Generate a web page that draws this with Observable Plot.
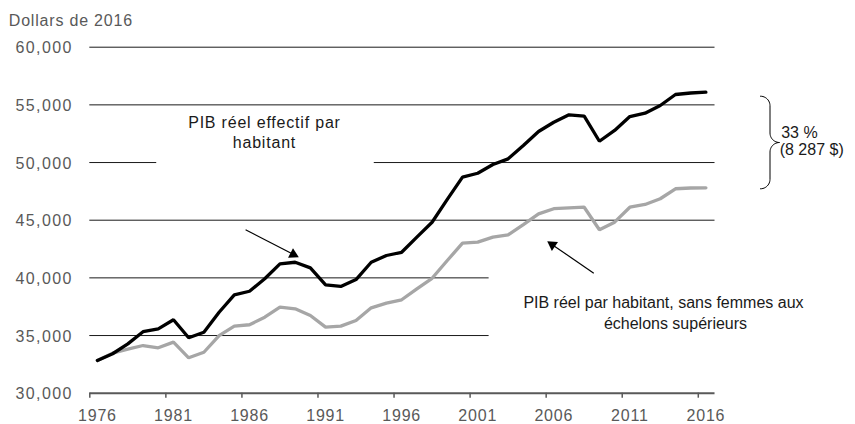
<!DOCTYPE html>
<html>
<head>
<meta charset="utf-8">
<script src="https://cdn.jsdelivr.net/npm/d3@7"></script>
<script src="https://cdn.jsdelivr.net/npm/@observablehq/plot@0.6"></script>
<style>
  html, body { margin: 0; padding: 0; background: #fff; }
  #chart { width: 855px; height: 424px; }
  #chart text.spaced { letter-spacing: 0.8px; }
</style>
</head>
<body>
<div id="chart"></div>
<script>
// ---- Data ----
const years = [1976,1977,1978,1979,1980,1981,1982,1983,1984,1985,1986,1987,1988,1989,1990,
  1991,1992,1993,1994,1995,1996,1997,1998,1999,2000,2001,2002,2003,2004,2005,2006,2007,2008,
  2009,2010,2011,2012,2013,2014,2015,2016];
const actualGdp = [32840,33420,34275,35330,35580,36365,34810,35290,37020,38530,38840,39920,41215,41355,40870,
  39395,39255,39855,41355,41940,42220,43530,44825,46800,48730,49070,49825,50320,51475,52690,53495,54140,54020,
  51845,52780,53990,54280,54945,55900,56030,56097];
const gdpWithoutWomen = [32840,33470,33820,34135,33935,34425,33070,33550,35000,35815,35935,36590,37455,37320,36740,
  35725,35815,36305,37400,37805,38100,39050,39965,41505,43005,43095,43530,43730,44625,45550,45995,46075,46125,
  44175,44830,46125,46365,46860,47725,47790,47810];
const yTicks = [30000,35000,40000,45000,50000,55000,60000];
const xTickLabels = [1976,1981,1986,1991,1996,2001,2006,2011,2016];
const xTickMarks = [1975.5,1980.5,1985.5,1990.5,1995.5,2000.5,2005.5,2010.5,2015.5];
const yLabel = "Dollars de 2016";
const gapLabel = ["33 %", "(8 287 $)"];

// ---- Layout ----
const W = 855, H = 424;
const mL = 89.3, mR = 142, mT = 46.7, mB = 31.3;
const xDomain = [1975.5, 2016.5], yDomain = [30000, 60000];
const xs = d3.scaleLinear(xDomain, [mL, W - mR]);
const ys = d3.scaleLinear(yDomain, [H - mB, mT]);

const rows = years.map((year, i) => ({year, actual: actualGdp[i], without: gdpWithoutWomen[i]}));

// gridline segments (some are interrupted by annotation text)
const grid = [
  {v: 60000, x1: 1975.5, x2: 2016.6},
  {v: 55000, x1: 1975.5, x2: 2016.6},
  {v: 50000, x1: 1975.5, x2: 1979.9},
  {v: 50000, x1: 1994.2, x2: 2016.6},
  {v: 45000, x1: 1975.5, x2: 2016.6},
  {v: 40000, x1: 1975.5, x2: 2001.75},
  {v: 35000, x1: 1975.5, x2: 2001.75}
];

const notesMid = [
  {t: "PIB réel effectif par", x: 1986.98, y: 53470},
  {t: "habitant", x: 1986.98, y: 51736}
];
const notesMid2 = [
  {t: "PIB réel par habitant, sans femmes aux", x: 2013.21, y: 37864},
  {t: "échelons supérieurs", x: 2014.0, y: 36043}
];
const notesStart = [
  {t: gapLabel[0], x: 2020.95, y: 52560},
  {t: gapLabel[1], x: 2020.85, y: 51130}
];

const arrows = [
  {x1: 1985.74, y1: 44167, x2: 1989.24, y2: 41791},
  {x1: 2008.63, y1: 40404, x2: 2005.57, y2: 43178}
];
// arrowheads: filled triangles whose tip sits at the arrow end
const headR = 4;
const tipDist = 2 * Math.sqrt(headR * headR * Math.PI / (3 * Math.sqrt(3)));
const heads = arrows.map(a => {
  const px1 = xs(a.x1), py1 = ys(a.y1), px2 = xs(a.x2), py2 = ys(a.y2);
  const ang = Math.atan2(py2 - py1, px2 - px1);
  const cx = px2 - tipDist * Math.cos(ang), cy = py2 - tipDist * Math.sin(ang);
  return {x: xs.invert(cx), y: ys.invert(cy), rot: ang * 180 / Math.PI + 90};
});
const shafts = arrows.map(a => {
  const px1 = xs(a.x1), py1 = ys(a.y1), px2 = xs(a.x2), py2 = ys(a.y2);
  const ang = Math.atan2(py2 - py1, px2 - px1);
  const ex = px2 - tipDist * 1.2 * Math.cos(ang), ey = py2 - tipDist * 1.2 * Math.sin(ang);
  return {x1: a.x1, y1: a.y1, x2: xs.invert(ex), y2: ys.invert(ey)};
});

// curly brace spanning the 2016 gap
function bracePoints() {
  const top = ys(actualGdp[actualGdp.length - 1]) + 4;
  const bot = ys(gdpWithoutWomen[gdpWithoutWomen.length - 1]) + 1;
  const x0 = 760, xc = 779, r = 9.5;
  const mid = (top + bot) / 2;
  const pts = [];
  const arc = (cx, cy, a0, a1) => {
    for (let k = 0; k <= 12; k++) {
      const a = (a0 + (a1 - a0) * k / 12) * Math.PI / 180;
      pts.push([cx + r * Math.cos(a), cy + r * Math.sin(a)]);
    }
  };
  arc(x0, top + r, -90, 0);
  arc(xc, mid - r, 180, 90);
  arc(xc, mid + r, 270, 180);
  arc(x0, bot - r, 0, 90);
  return pts.map(([px, py]) => ({x: xs.invert(px), y: ys.invert(py)}));
}
const brace = bracePoints();

const font = "'Liberation Sans', Arial, Helvetica, sans-serif";

const chart = Plot.plot({
  width: W, height: H,
  marginLeft: mL, marginRight: mR, marginTop: mT, marginBottom: mB,
  x: {domain: xDomain},
  y: {domain: yDomain},
  style: {fontFamily: font, background: "#fff", overflow: "visible"},
  marks: [
    Plot.ruleY(grid, {y: "v", x1: "x1", x2: "x2", stroke: "#1a1a1a", strokeWidth: 1}),
    Plot.ruleY([30000], {x1: 1975.5, x2: 2016.6, stroke: "#595959", strokeWidth: 2}),
    Plot.axisX(xTickMarks, {tickSize: 5, tickFormat: () => "", stroke: "#595959", strokeWidth: 1.5, label: null}),
    Plot.axisX(xTickLabels, {tickSize: 0, tickPadding: 16, tickFormat: d => String(d), fontSize: 16, fill: "#595959", label: null, className: "xlab"}),
    Plot.axisY(yTicks, {tickSize: 0, tickPadding: 17, dy: 1, tickFormat: d3.format(","), fontSize: 16, fill: "#595959", label: null, className: "ylab"}),
    Plot.text([yLabel], {frameAnchor: "top-left", dx: -81, dy: -33, textAnchor: "start", fontSize: 16, fill: "#595959", className: "ttl"}),
    Plot.line(rows, {x: "year", y: "without", stroke: "#a6a6a6", strokeWidth: 3.3, strokeLinejoin: "miter"}),
    Plot.line(rows, {x: "year", y: "actual", stroke: "#000", strokeWidth: 3.3, strokeLinejoin: "miter"}),
    Plot.link(shafts, {x1: "x1", y1: "y1", x2: "x2", y2: "y2", stroke: "#000", strokeWidth: 1.2}),
    Plot.dot(heads, {x: "x", y: "y", symbol: "triangle", r: headR, fill: "#000", stroke: null, rotate: "rot"}),
    Plot.line(brace, {x: "x", y: "y", stroke: "#000", strokeWidth: 1, curve: "linear"}),
    Plot.text(notesMid, {x: "x", y: "y", text: "t", textAnchor: "middle", fontSize: 16, fill: "#1a1a1a", className: "n1"}),
    Plot.text(notesMid2, {x: "x", y: "y", text: "t", textAnchor: "middle", fontSize: 16, fill: "#1a1a1a", className: "n2"}),
    Plot.text(notesStart, {x: "x", y: "y", text: "t", textAnchor: "start", fontSize: 16, fill: "#1a1a1a", className: "n3"})
  ]
});
// wider glyph spacing like the reference rendering
chart.querySelectorAll(".xlab text, .ylab text, .ttl text, .n1 text").forEach(t => t.style.letterSpacing = "0.8px");
chart.querySelectorAll(".ylab text").forEach(t => t.style.letterSpacing = "1.4px");
document.getElementById("chart").appendChild(chart);
</script>
</body>
</html>
